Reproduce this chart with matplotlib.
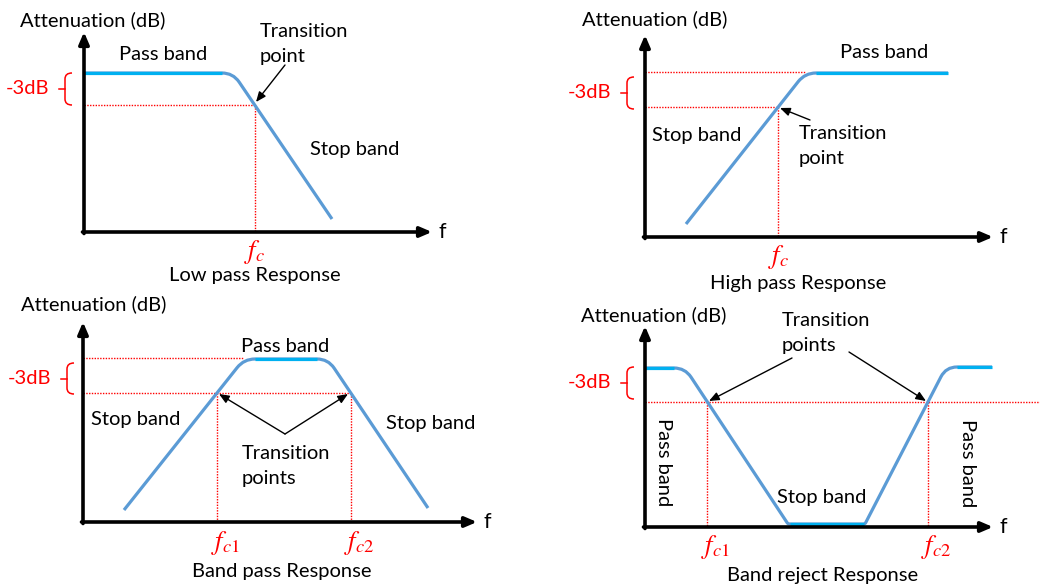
import numpy as np
import matplotlib
matplotlib.use('Agg')
import matplotlib.pyplot as plt
from matplotlib.path import Path
from matplotlib.patches import PathPatch

plt.rcParams['font.family'] = ['Lato', 'DejaVu Sans']
plt.rcParams['mathtext.fontset'] = 'stix'

# ---------------- data (figure pixel frame) ----------------
titles = ["Low pass Response", "High pass Response", "Band pass Response", "Band reject Response"]
axis_origin_x = [84, 645, 83, 645]
axis_origin_y = [232, 237, 522, 527]
axis_top = [32, 35, 322, 326]
axis_right = [432, 993, 477, 993]

resp_x = [[84, 233, 332], [686, 805, 948], [124, 244, 328, 428], [645, 685, 788, 865, 946, 992]]
resp_y = [[73, 73, 219], [224, 73, 73], [510, 359, 359, 508], [368, 368, 524, 524, 367, 367]]

level_3db = [105, 107, 393, 402]            # -3 dB level
top_line = [None, (72, 805), (358, 243), None]  # (y, x_end) of upper dotted line
hline_end = [None, None, None, 1040]
fc_labels = [[r"$f_c$"], [r"$f_c$"], [r"$f_{c1}$", r"$f_{c2}$"], [r"$f_{c1}$", r"$f_{c2}$"]]
fc_label_y = [252, 257, 543, 547]

br_x = [65, 627, 67, 627]
br_top = [73, 77, 363, 367]
br_bot = [105, 109, 394, 399]

BLUE = '#5B9BD5'
CYAN = '#00B0F0'
RED = '#FF0000'
FS = 14.5

W, H = 1040, 586
fig = plt.figure(figsize=(10.4, 5.86), dpi=100)
ax = fig.add_axes([0, 0, 1, 1])
ax.set_xlim(0, W)
ax.set_ylim(H, 0)
ax.axis('off')

R_TOP, R_BOT = 11, 1.5


def corner_radius(ys, i):
    return R_TOP if ys[i] <= min(ys[i - 1], ys[i + 1]) else R_BOT


def rounded_path(xs, ys):
    verts = [(xs[0], ys[0])]
    codes = [Path.MOVETO]
    for i in range(1, len(xs) - 1):
        r = corner_radius(ys, i)
        p = np.array([xs[i], ys[i]], float)
        a = np.array([xs[i - 1], ys[i - 1]], float)
        b = np.array([xs[i + 1], ys[i + 1]], float)
        da = (a - p) / np.linalg.norm(a - p)
        db = (b - p) / np.linalg.norm(b - p)
        verts += [tuple(p + da * r), tuple(p), tuple(p + db * r)]
        codes += [Path.LINETO, Path.CURVE3, Path.CURVE3]
    verts.append((xs[-1], ys[-1]))
    codes.append(Path.LINETO)
    return Path(verts, codes)


def crossings(xs, ys, lvl):
    out = []
    for i in range(len(xs) - 1):
        y0, y1 = ys[i], ys[i + 1]
        if y0 != y1 and min(y0, y1) <= lvl <= max(y0, y1):
            t = (lvl - y0) / (y1 - y0)
            out.append(xs[i] + t * (xs[i + 1] - xs[i]))
    return out


for k in range(4):
    ox, oy = axis_origin_x[k], axis_origin_y[k]
    xs, ys = resp_x[k], resp_y[k]
    lvl = level_3db[k]
    fcs = crossings(xs, ys, lvl)

    # dotted guide lines
    hx_end = hline_end[k] if hline_end[k] is not None else max(fcs)
    ax.plot([ox, hx_end], [lvl, lvl], color=RED, lw=1.0, ls=(0, (1, 1)), zorder=2)
    for fx in fcs:
        ax.plot([fx, fx], [lvl, oy], color=RED, lw=1.0, ls=(0, (1, 1)), zorder=2)
    if top_line[k] is not None:
        ty, tx = top_line[k]
        ax.plot([ox, tx], [ty, ty], color=RED, lw=1.0, ls=(0, (1, 1)), zorder=2)

    # response curve
    ax.add_patch(PathPatch(rounded_path(xs, ys), fill=False, ec=BLUE, lw=2.3,
                           capstyle='butt', joinstyle='round', zorder=3))
    n = len(xs)
    for i in range(n - 1):
        if ys[i] == ys[i + 1]:
            a = xs[i] + (corner_radius(ys, i) if i > 0 else 0)
            b = xs[i + 1] - (corner_radius(ys, i + 1) if i + 1 < n - 1 else 0)
            ax.plot([a, b], [ys[i], ys[i]], color=CYAN, lw=2.3, solid_capstyle='butt', zorder=4)

    # axes with arrows
    ax.annotate('', xy=(ox, axis_top[k]), xytext=(ox, oy + 1.5),
                arrowprops=dict(arrowstyle='-|>,head_length=0.7,head_width=0.3', lw=2.6,
                                color='black', shrinkA=0, shrinkB=0), zorder=5)
    ax.annotate('', xy=(axis_right[k], oy), xytext=(ox - 1.5, oy),
                arrowprops=dict(arrowstyle='-|>,head_length=0.7,head_width=0.3', lw=2.6,
                                color='black', shrinkA=0, shrinkB=0), zorder=5)
    ax.text(axis_right[k] + 10, oy, 'f', fontsize=FS + 1, ha='center', va='center')

    # fc labels
    offs = 0 if len(fcs) == 1 else 8
    for fx, lab in zip(fcs, fc_labels[k]):
        ax.text(fx + offs, fc_label_y[k], lab, color=RED, fontsize=19, ha='center', va='center')

    # -3dB bracket
    bx, bt, bb = br_x[k], br_top[k], br_bot[k]
    bm = (bt + bb) / 2
    bp = Path([(bx + 7, bt), (bx, bt), (bx, bt + 6), (bx, bb - 6), (bx, bb), (bx + 7, bb)],
              [Path.MOVETO, Path.CURVE3, Path.CURVE3, Path.LINETO, Path.CURVE3, Path.CURVE3])
    ax.add_patch(PathPatch(bp, fill=False, ec=RED, lw=1.1))
    ax.plot([bx - 6, bx], [bm, bm], color=RED, lw=1.1)
    ax.text(bx - 16, bm, '-3dB', color=RED, fontsize=FS, ha='right', va='center')

# ---------------- texts ----------------
ylab_pos = [(20, 20), (582, 19), (21, 304), (581, 315)]
for (x, y) in ylab_pos:
    ax.text(x, y, 'Attenuation (dB)', fontsize=FS, ha='left', va='center')

title_pos = [(255, 275), (798, 283), (282, 572), (823, 575)]
for (x, y), t in zip(title_pos, titles):
    ax.text(x, y, t, fontsize=FS, ha='center', va='center')

LS = 1.6
# panel 1
ax.text(163, 55, 'Pass band', fontsize=FS, ha='center', va='center')
ax.text(260, 44, 'Transition\npoint', fontsize=FS, ha='left', va='center', linespacing=LS)
ax.text(310, 150, 'Stop band', fontsize=FS, ha='left', va='center')
# panel 2
ax.text(840, 53, 'Pass band', fontsize=FS, ha='left', va='center')
ax.text(652, 135, 'Stop band', fontsize=FS, ha='left', va='center')
ax.text(799, 146, 'Transition\npoint', fontsize=FS, ha='left', va='center', linespacing=LS)
# panel 3
ax.text(241, 347, 'Pass band', fontsize=FS, ha='left', va='center')
ax.text(91, 420, 'Stop band', fontsize=FS, ha='left', va='center')
ax.text(386, 423, 'Stop band', fontsize=FS, ha='left', va='center')
ax.text(242, 466, 'Transition\npoints', fontsize=FS, ha='left', va='center', linespacing=LS)
# panel 4
ax.text(782, 333, 'Transition\npoints', fontsize=FS, ha='left', va='center', linespacing=LS)
ax.text(663, 462, 'Pass band', fontsize=FS, ha='center', va='center', rotation=-90)
ax.text(967, 463, 'Pass band', fontsize=FS, ha='center', va='center', rotation=-90)
ax.text(822, 497, 'Stop band', fontsize=FS, ha='center', va='center')

# annotation arrows
arrows = [((285, 65), (256, 102)), ((810, 120), (780, 108)),
          ((285, 434), (219, 394)), ((285, 434), (348, 394)),
          ((792, 358), (709, 401)), ((849, 352), (926, 401))]
for (x0, y0), (x1, y1) in arrows:
    ax.annotate('', xy=(x1, y1), xytext=(x0, y0),
                arrowprops=dict(arrowstyle='-|>,head_length=0.6,head_width=0.25', lw=1.0,
                                color='black', shrinkA=0, shrinkB=0), zorder=6)

fig.savefig('out.png', dpi=100, facecolor='white')
